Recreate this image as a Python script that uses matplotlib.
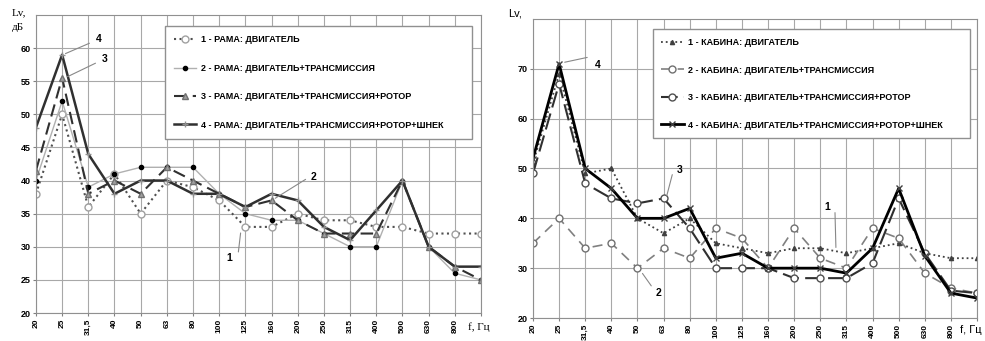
""" Vibration levels Lv by 1/3-octave frequency band:
    frame (РАМА) and cabin (КАБИНА), four running modes each.
"""

import numpy as np
import matplotlib
matplotlib.use('Agg')
import matplotlib.pyplot as plt

plt.rc('font', family=['Liberation Sans', 'DejaVu Sans'], size=6.5, weight='bold')

########
# Data #
########
freq_labels = ['20', '25', '31,5', '40', '50', '63', '80', '100', '125',
               '160', '200', '250', '315', '400', '500', '630', '800', '']

# Frame
rama_1 = [38, 50, 36, 41, 35, 40, 39, 37, 33, 33, 35, 34, 34, 33, 33, 32, 32, 32]
rama_2 = [40, 52, 39, 41, 42, 42, 42, 38, 35, 34, 34, 32, 30, 30, 40, 30, 26, 25]
rama_3 = [41.5, 55.5, 38, 40, 38, 42, 40, 38, 36, 37, 34, 32, 32, 32, 40, 30, 27, 25]
rama_4 = [48, 59, 44, 38, 40, 40, 38, 38, 36, 38, 37, 33, 31, 35.5, 40, 30, 27, 27]
rama_labels = ['1 - РАМА: ДВИГАТЕЛЬ',
               '2 - РАМА: ДВИГАТЕЛЬ+ТРАНСМИССИЯ',
               '3 - РАМА: ДВИГАТЕЛЬ+ТРАНСМИССИЯ+РОТОР',
               '4 - РАМА: ДВИГАТЕЛЬ+ТРАНСМИССИЯ+РОТОР+ШНЕК']

# Cabin
kab_1 = [51, 69, 49, 50, 40, 37, 40, 35, 34, 33, 34, 34, 33, 34, 35, 33, 32, 32]
kab_2 = [35, 40, 34, 35, 30, 34, 32, 38, 36, 30, 38, 32, 30, 38, 36, 29, 26, 25]
kab_3 = [49, 67, 47, 44, 43, 44, 38, 30, 30, 30, 28, 28, 28, 31, 44, 33, 25.5, 25]
kab_4 = [52, 71, 50, 46, 40, 40, 42, 32, 33, 30, 30, 30, 29, 34, 46, 32.5, 25, 24]
kab_labels = ['1 - КАБИНА: ДВИГАТЕЛЬ',
              '2 - КАБИНА: ДВИГАТЕЛЬ+ТРАНСМИССИЯ',
              '3 - КАБИНА: ДВИГАТЕЛЬ+ТРАНСМИССИЯ+РОТОР',
              '4 - КАБИНА: ДВИГАТЕЛЬ+ТРАНСМИССИЯ+РОТОР+ШНЕК']

x = np.arange(len(freq_labels))

fig = plt.figure(figsize=(9.85, 3.41), dpi=100)
ax1 = fig.add_axes([0.0365, 0.0821, 0.4518, 0.874])
ax2 = fig.add_axes([0.5411, 0.0674, 0.4508, 0.877])


def style_axes(ax, ymax, ystep):
    ax.set_xlim(0, len(freq_labels) - 1)
    ax.set_ylim(20, ymax)
    ax.set_xticks(x)
    ax.set_xticklabels(freq_labels, rotation=90, fontsize=6)
    ax.set_yticks(np.arange(20, ymax, ystep))
    ax.tick_params(length=2, pad=2, color='#808080')
    ax.grid(True, color='#a8a8a8', lw=0.8)
    ax.set_axisbelow(True)
    for sp in ax.spines.values():
        sp.set_color('#909090')
        sp.set_linewidth(0.8)


def note(ax, txt, xy, xytext, xyline):
    ax.annotate('', xy=xy, xytext=xyline,
                arrowprops=dict(arrowstyle='-', color='#888888', lw=0.8))
    ax.text(xytext[0], xytext[1], txt, fontsize=7.5, ha='center', va='center')


##############
# Frame plot #
##############
style_axes(ax1, 65, 5)
ax1.plot(x, rama_1, ls=':', color='#505050', lw=1.5, marker='o', ms=5,
         mfc='white', mec='#a0a0a0', label=rama_labels[0])
ax1.plot(x, rama_2, ls='-', color='#b0b0b0', lw=1.0, marker='o', ms=3,
         mfc='black', mec='black', label=rama_labels[1])
ax1.plot(x, rama_3, dashes=(6, 3), color='#303030', lw=1.5, marker='^', ms=5,
         mfc='#a0a0a0', mec='#707070', label=rama_labels[2])
ax1.plot(x, rama_4, ls='-', color='#303030', lw=1.8, marker='+', ms=4,
         mec='#909090', label=rama_labels[3])
ax1.legend(loc='upper left', bbox_to_anchor=(0.279, 0.0, 0.710, 0.977),
           mode='expand', fancybox=False, edgecolor='#909090', framealpha=1,
           fontsize=6.5, labelspacing=2.15, borderpad=1.0, handlelength=2.5,
           handletextpad=0.5)

note(ax1, '4', (1.03, 59), (2.41, 61.4), (2.14, 60.9))
note(ax1, '3', (1.11, 55.5), (2.64, 58.4), (2.37, 57.9))
note(ax1, '1', (7.83, 32.5), (7.37, 28.3), (7.72, 28.8))
note(ax1, '2', (9.05, 37.1), (10.62, 40.5), (10.39, 40.4))

fig.text(12 / 985, 1 - 13 / 341, 'Lv,', family='Liberation Serif',
         fontsize=8, weight='normal', va='center')
fig.text(12 / 985, 1 - 27 / 341, 'дБ', family='Liberation Serif',
         fontsize=8, weight='normal', va='center')
fig.text(468 / 985, 1 - 327 / 341, 'f, Гц', family='Liberation Serif',
         fontsize=8, weight='normal', va='center')

##############
# Cabin plot #
##############
style_axes(ax2, 80, 10)
ax2.plot(x, kab_1, ls=':', color='#404040', lw=1.3, marker='^', ms=3,
         mfc='#404040', mec='#404040', label=kab_labels[0])
ax2.plot(x, kab_2, dashes=(6, 4), color='#808080', lw=1.2, marker='o', ms=5,
         mfc='white', mec='#707070', label=kab_labels[1])
ax2.plot(x, kab_3, dashes=(8, 3), color='#303030', lw=1.5, marker='o', ms=5,
         mfc='white', mec='#505050', label=kab_labels[2])
ax2.plot(x, kab_4, ls='-', color='black', lw=2.0, marker='x', ms=5,
         mec='#404040', label=kab_labels[3])
ax2.legend(loc='upper left', bbox_to_anchor=(0.259, 0.0, 0.736, 0.98),
           mode='expand', fancybox=False, edgecolor='#909090', framealpha=1,
           fontsize=6.5, labelspacing=2.05, borderpad=0.95, handlelength=2.5,
           handletextpad=0.5)

note(ax2, '4', (1.11, 71.2), (2.49, 70.8), (2.18, 72.4))
note(ax2, '3', (5.09, 43.9), (5.63, 49.7), (5.36, 49.3))
note(ax2, '2', (4.13, 29.4), (4.79, 25.0), (4.59, 26.0))
note(ax2, '1', (11.6, 33.6), (11.26, 42.3), (11.56, 41.7))

fig.text(508 / 985, 1 - 13 / 341, 'Lv,', fontsize=8, weight='normal', va='center')
fig.text(960 / 985, 1 - 330 / 341, 'f, Гц', fontsize=8, weight='normal', va='center')

fig.savefig('out.png', dpi=100)
